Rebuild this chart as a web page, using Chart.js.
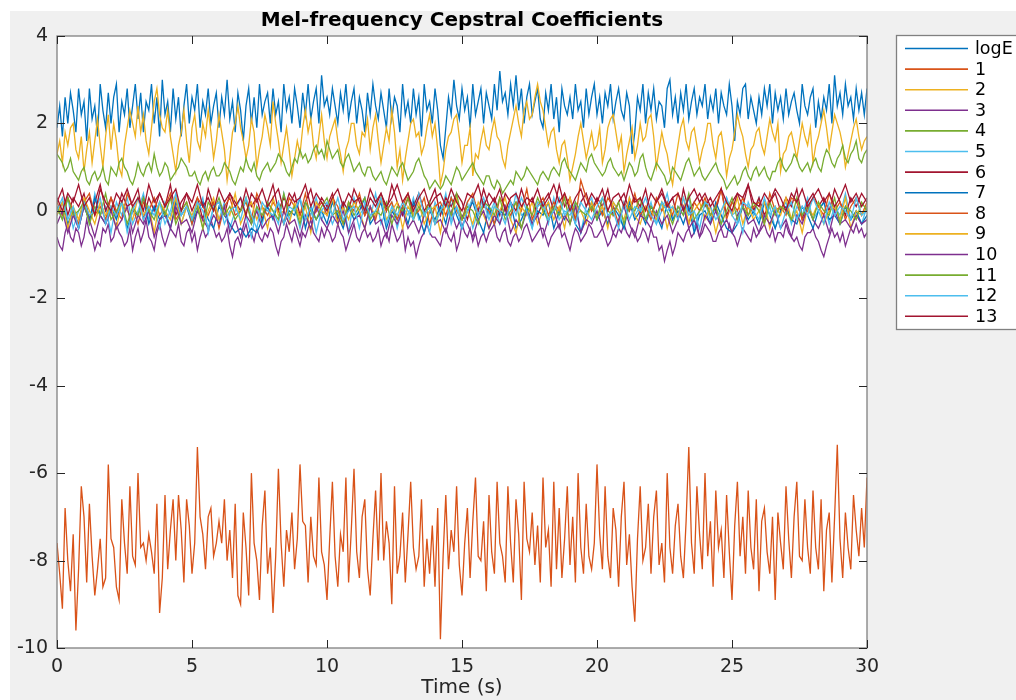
<!DOCTYPE html>
<html>
<head>
<meta charset="utf-8">
<title>Mel-frequency Cepstral Coefficients</title>
<script src="https://cdn.jsdelivr.net/npm/chart.js@4/dist/chart.umd.min.js"></script>
<style>
  html, body { margin: 0; padding: 0; background: #fff; }
  canvas { display: block; }
</style>
</head>
<body>
<canvas id="mfccChart" width="1016" height="700"></canvas>
<script>
// clip length in seconds; each series is evenly spread over it
const DURATION = 30;

// 0.1 s frames
const mfccLogE = [
  1.9,2.4,1.7,2.6,2.0,2.7,2.3,1.8,2.8,2.2, 2.5,1.6,2.8,2.1,2.4,1.7,2.9,2.3,1.9,2.7,
  2.0,2.6,2.9,1.8,2.5,2.2,2.8,1.9,2.4,2.9, 2.1,2.7,1.8,2.5,2.3,2.9,2.0,2.6,1.7,3.0,
  2.2,2.5,1.8,2.8,2.1,2.6,1.7,2.4,2.9,2.0, 2.6,2.3,2.9,1.9,2.5,2.2,2.8,2.0,2.4,2.7,
  1.9,2.6,2.2,3.0,2.1,2.5,1.8,2.7,2.3,1.6, 2.4,2.8,2.0,2.6,1.9,2.9,2.2,2.5,2.7,2.0,
  2.8,2.2,2.5,1.8,2.9,2.3,2.6,2.0,2.8,2.4, 1.9,2.7,2.2,2.9,2.1,2.5,2.8,2.0,3.1,2.4,
  2.6,2.2,2.8,2.4,2.0,2.7,2.3,2.9,2.1,2.5, 2.8,2.0,2.6,2.3,1.8,2.7,2.2,2.9,2.4,2.1,
  2.7,2.3,1.9,2.8,2.1,2.6,2.4,1.8,2.9,2.2, 2.5,2.0,2.8,2.2,2.6,1.7,2.9,2.3,2.5,2.0,
  2.8,2.3,1.5,1.2,1.9,2.6,2.2,3.0,2.4,2.1, 2.8,2.3,2.6,1.9,2.9,2.2,2.5,2.8,2.0,2.7,
  2.4,2.1,2.9,2.3,3.2,2.5,2.7,2.2,2.9,2.4, 3.1,2.3,2.8,2.0,2.6,2.9,2.2,2.5,2.8,2.1,
  1.9,2.7,2.3,2.9,2.1,2.6,1.8,2.8,2.4,2.2, 2.6,2.1,2.9,2.3,2.5,1.9,2.8,2.2,2.6,2.9,
  2.2,2.6,2.0,2.7,2.4,2.9,2.1,2.5,2.8,2.3, 2.1,2.7,2.4,1.3,1.8,2.6,2.3,2.9,2.0,2.7,
  2.3,2.8,2.1,2.5,2.4,1.9,2.8,3.0,2.2,2.6, 2.0,2.7,2.3,2.9,2.1,2.5,2.8,2.2,2.6,2.4,
  2.9,2.1,2.6,2.3,2.8,2.0,2.7,2.4,2.2,2.9, 2.4,1.6,2.5,2.2,2.8,2.9,2.1,2.6,2.3,2.0,
  2.6,2.2,2.8,2.4,2.9,2.0,2.7,2.3,2.6,2.1, 2.8,2.2,2.5,2.7,2.3,2.0,2.9,2.4,2.2,2.6,
  2.8,1.9,2.5,2.1,2.6,2.3,2.9,2.0,3.1,2.4, 2.7,2.2,2.9,2.4,2.6,2.1,2.8,2.3,2.7,2.2,
  2.8
];
const mfcc1 = [
  -7.6,-8.3,-9.1,-6.8,-8.0,-8.7,-7.4,-9.6,-8.2,-6.3, -7.0,-8.5,-6.7,-7.9,-8.8,-8.2,-7.5,-8.6,-8.4,-5.8,
  -7.5,-7.7,-8.6,-8.9,-6.6,-7.6,-8.3,-6.3,-7.9,-8.1, -6.0,-7.7,-7.6,-8.0,-7.4,-7.8,-8.3,-6.7,-9.2,-8.4,
  -6.5,-8.2,-7.3,-6.6,-8.0,-6.5,-7.3,-8.5,-6.6,-7.2, -8.3,-7.6,-5.4,-7.0,-7.4,-8.2,-7.0,-6.8,-7.9,-7.6,
  -7.1,-7.6,-6.6,-8.0,-7.3,-8.4,-6.7,-8.8,-9.0,-6.9, -7.7,-8.8,-6.0,-7.6,-8.0,-8.9,-7.2,-6.4,-8.3,-7.7,
  -9.2,-7.9,-5.9,-7.6,-8.6,-7.3,-7.8,-6.9,-8.2,-7.5, -5.8,-7.1,-7.2,-8.5,-7.0,-7.9,-8.1,-6.1,-7.8,-8.1,
  -8.9,-7.5,-6.2,-7.9,-8.6,-7.4,-7.8,-6.1,-8.5,-7.3, -5.9,-7.8,-8.4,-7.0,-6.6,-8.2,-8.8,-7.5,-6.4,-8.0,
  -6.0,-8.0,-7.1,-7.6,-9.0,-6.3,-8.3,-7.9,-6.9,-8.5, -7.4,-6.2,-7.7,-8.2,-7.9,-6.6,-8.6,-7.5,-8.3,-7.2,
  -8.6,-6.8,-9.8,-7.9,-6.5,-8.2,-7.3,-7.8,-6.3,-8.1, -8.8,-7.6,-6.8,-8.4,-7.1,-6.1,-7.9,-8.0,-7.1,-8.7,
  -6.5,-7.8,-8.3,-6.2,-7.6,-7.9,-8.5,-6.3,-7.6,-8.5, -6.6,-7.4,-8.9,-6.2,-7.5,-7.8,-6.9,-8.1,-7.2,-8.5,
  -6.1,-7.7,-7.3,-8.6,-6.2,-8.2,-6.8,-8.4,-7.5,-6.3, -8.1,-7.0,-8.5,-6.0,-7.7,-8.3,-6.7,-7.9,-8.2,-7.6,
  -5.8,-7.4,-8.2,-6.3,-7.9,-8.4,-6.8,-7.3,-8.6,-7.0, -6.2,-8.1,-7.4,-8.6,-9.4,-7.5,-6.3,-8.0,-7.7,-6.7,
  -8.3,-7.0,-6.4,-8.1,-7.6,-8.5,-6.0,-7.7,-8.3,-7.2, -6.7,-7.9,-8.4,-7.1,-5.4,-7.6,-8.3,-6.3,-7.4,-8.2,
  -6.0,-7.9,-7.1,-8.6,-6.4,-7.7,-7.3,-8.4,-6.5,-7.8, -8.9,-7.2,-6.2,-7.9,-7.0,-8.3,-6.4,-7.7,-8.2,-6.6,
  -8.7,-7.1,-6.8,-7.8,-8.3,-7.0,-8.9,-6.9,-7.6,-8.2, -6.3,-7.5,-8.4,-7.0,-6.2,-7.9,-8.0,-6.6,-7.7,-8.3,
  -6.4,-7.7,-8.2,-6.6,-8.7,-7.3,-6.9,-8.5,-7.0,-5.35, -7.5,-8.4,-6.9,-7.7,-8.2,-6.5,-7.3,-7.9,-6.8,-7.7,
  -6.1
];
const mfcc2 = [
  1.3,1.6,1.1,1.8,1.5,1.9,2.0,1.4,1.2,1.7, 0.9,1.4,1.8,1.1,1.6,2.1,1.5,1.0,1.7,2.2,
  1.4,2.0,1.6,1.0,0.8,1.5,1.9,2.3,2.0,1.7, 2.4,1.8,2.2,1.6,1.3,1.9,2.5,2.8,2.2,1.9,
  1.8,2.3,1.7,1.3,0.9,1.5,1.8,2.3,1.6,1.1, 1.9,2.2,1.6,1.4,2.0,1.7,2.3,1.8,1.2,1.6,
  2.2,1.8,1.4,0.7,1.2,1.8,2.0,2.4,1.9,1.6, 1.2,1.5,2.1,1.8,1.0,1.4,1.7,2.2,1.9,1.5,
  2.5,2.0,1.6,1.1,1.5,1.9,1.4,0.8,1.2,1.6, 1.3,1.9,2.3,1.8,2.1,1.5,1.2,1.7,2.2,1.6,
  1.2,1.7,1.9,2.1,1.6,1.3,0.9,1.4,1.6,2.0, 2.0,1.5,1.3,1.8,1.7,2.1,1.4,1.9,2.2,1.6,
  1.1,1.5,1.9,1.6,2.3,1.8,1.0,1.4,0.7,1.2, 1.6,2.0,2.1,1.7,1.8,1.3,1.5,1.9,2.2,1.7,
  2.0,1.4,0.6,0.9,1.4,1.7,1.8,2.1,2.2,1.7, 1.1,1.5,1.5,1.9,0.8,1.3,1.2,1.6,1.9,1.5,
  1.4,1.8,2.1,1.7,1.6,1.2,1.0,1.5,1.8,2.1, 2.4,2.0,1.7,2.3,2.5,2.1,2.2,2.6,2.9,2.5,
  2.3,1.9,1.5,1.8,1.9,1.4,1.1,1.5,1.6,1.2, 0.7,1.0,1.3,1.7,2.0,1.6,1.2,1.5,1.8,1.4,
  1.5,1.9,1.1,1.4,1.9,2.1,2.2,1.8,1.4,1.7, 0.9,1.3,1.6,1.9,1.2,1.5,2.0,1.6,1.7,2.1,
  2.2,1.7,1.0,1.4,1.8,1.5,1.3,0.9,0.6,1.1, 1.5,1.9,2.1,1.6,1.4,1.8,1.9,1.5,1.1,1.4,
  1.6,2.0,2.0,1.5,1.2,1.7,1.8,1.4,0.8,1.2, 1.4,1.8,2.2,1.9,1.7,1.3,1.0,1.4,1.5,1.8,
  1.9,1.5,1.3,1.7,2.1,1.8,1.6,2.0,0.9,1.3, 1.4,1.7,1.8,1.5,1.2,1.6,2.0,1.7,1.5,1.9,
  1.1,1.5,1.7,2.0,2.3,1.9,1.4,1.8,2.2,2.0, 1.8,1.5,1.0,1.3,1.6,1.9,2.1,1.7,1.4,1.6,
  1.7
];
const mfcc3 = [
  -0.6,-0.8,-0.9,-0.5,-0.3,-0.6,-0.7,-0.4,-0.5,-0.8, -0.6,-0.2,-0.5,-0.6,-0.9,-0.7,-0.8,-0.4,-0.5,-0.3,
  -0.7,-0.6,-0.3,-0.5,-0.6,-0.8,-0.7,-0.4,-0.9,-0.6, -0.4,-0.7,-0.5,-0.2,-0.6,-0.7,-0.9,-0.5,-0.3,-0.6,
  -0.8,-0.6,-0.4,-0.5,-0.6,-0.3,-0.7,-0.8,-0.5,-0.4, -0.7,-0.5,-0.9,-0.6,-0.4,-0.6,-0.5,-0.2,-0.4,-0.6,
  -0.5,-0.7,-0.6,-0.4,-0.8,-1.05,-0.7,-0.6,-0.8,-0.5, -0.3,-0.6,-0.5,-0.7,-0.4,-0.6,-0.7,-0.5,-0.6,-0.4,
  -0.5,-0.8,-1.0,-0.7,-0.6,-0.3,-0.5,-0.7,-0.4,-0.6, -0.8,-0.5,-0.6,-0.4,-0.2,-0.5,-0.6,-0.7,-0.4,-0.6,
  -0.4,-0.5,-0.7,-0.6,-0.3,-0.5,-0.6,-0.9,-0.7,-0.5, -0.3,-0.6,-0.7,-0.5,-0.4,-0.6,-0.5,-0.7,-0.6,-0.4,
  -0.8,-0.6,-0.5,-0.7,-0.3,-0.5,-0.7,-0.6,-0.4,-0.9, -0.6,-0.8,-0.7,-1.05,-0.8,-0.6,-0.5,-0.3,-0.5,-0.6,
  -0.6,-0.7,-0.8,-0.5,-0.4,-0.6,-0.7,-0.5,-0.9,-0.7, -0.3,-0.5,-0.6,-0.4,-0.7,-0.5,-0.8,-0.6,-0.5,-0.7,
  -0.5,-0.4,-0.3,-0.6,-0.7,-0.5,-0.4,-0.7,-0.8,-0.6, -0.5,-0.7,-0.6,-0.4,-0.3,-0.5,-0.7,-0.6,-0.5,-0.4,
  -0.4,-0.6,-0.8,-0.6,-0.5,-0.4,-0.3,-0.6,-0.5,-0.7, -0.9,-0.6,-0.4,-0.5,-0.7,-0.6,-0.5,-0.3,-0.4,-0.6,
  -0.6,-0.5,-0.4,-0.6,-0.8,-0.7,-0.5,-0.6,-0.4,-0.5, -0.3,-0.5,-0.6,-0.4,-0.5,-0.7,-0.6,-0.4,-0.5,-0.7,
  -0.4,-0.6,-0.6,-0.9,-0.8,-1.15,-0.9,-0.7,-1.0,-0.8, -0.5,-0.6,-0.7,-0.5,-0.4,-0.6,-0.5,-0.3,-0.6,-0.5,
  -0.3,-0.4,-0.5,-0.7,-0.7,-0.5,-0.4,-0.6,-0.6,-0.3, -0.5,-0.6,-0.8,-0.6,-0.4,-0.5,-0.6,-0.7,-0.4,-0.6,
  -0.5,-0.4,-0.3,-0.5,-0.6,-0.4,-0.7,-0.5,-0.5,-0.6, -0.3,-0.5,-0.6,-0.7,-0.6,-0.8,-0.9,-0.6,-0.5,-0.5,
  -0.4,-0.6,-0.7,-0.9,-1.05,-0.8,-0.6,-0.4,-0.6,-0.5, -0.7,-0.5,-0.8,-0.6,-0.4,-0.5,-0.3,-0.5,-0.4,-0.6,
  -0.5
];
const mfcc4 = [
  1.3,1.2,1.1,0.9,1.0,1.2,0.9,0.8,0.7,0.9, 1.0,0.7,0.6,0.8,0.9,0.7,0.8,1.0,0.7,0.6,
  1.0,0.9,0.8,1.1,1.2,1.0,0.9,0.7,0.6,0.8, 1.1,0.9,0.8,1.0,1.1,0.9,1.3,1.0,0.8,0.9,
  1.1,1.0,0.7,0.8,0.9,1.0,1.2,1.1,1.0,0.8, 0.8,0.9,0.7,0.6,0.8,0.9,0.7,0.9,1.0,0.8,
  0.8,0.9,1.1,1.0,0.9,0.7,0.6,0.8,1.0,0.9, 1.2,1.0,0.9,1.1,0.8,0.7,0.9,1.0,1.1,0.9,
  1.0,1.1,1.3,1.2,1.1,0.9,0.8,1.0,1.2,1.1, 1.4,1.2,1.3,1.1,1.2,1.4,1.5,1.3,1.4,1.2,
  1.6,1.4,1.2,1.3,1.4,1.1,1.0,1.2,1.3,1.1, 0.9,1.0,1.1,0.9,0.8,1.0,1.0,0.8,0.7,0.8,
  0.9,0.7,0.6,0.8,1.0,0.9,0.8,1.0,1.1,0.9, 0.7,0.8,0.9,1.1,1.2,1.0,0.8,0.7,0.5,0.6,
  0.7,0.6,0.5,0.6,0.8,0.7,0.6,0.8,1.0,0.9, 0.7,0.8,0.9,1.0,1.1,0.9,0.8,0.7,0.6,0.8,
  0.8,0.6,0.5,0.7,0.6,0.4,0.5,0.6,0.7,0.6, 0.9,0.8,0.7,0.8,1.0,0.9,0.8,0.7,0.6,0.8,
  0.9,0.8,0.7,0.9,1.0,0.9,0.8,1.1,1.2,1.0, 0.9,0.8,0.7,0.9,1.1,1.0,0.9,1.2,1.3,1.1,
  1.0,0.9,0.8,0.9,1.1,1.2,1.0,0.9,0.8,0.9, 0.7,0.9,1.1,1.0,0.8,0.9,1.2,1.3,1.0,0.8,
  0.7,0.9,1.1,1.0,0.9,0.8,0.6,0.7,1.0,0.9, 0.8,0.7,0.9,1.1,1.2,1.0,0.8,0.9,1.0,0.8,
  0.7,0.8,0.9,1.0,1.1,0.9,0.8,0.7,0.5,0.6, 0.7,0.8,0.6,0.7,0.9,1.0,0.8,0.7,0.9,1.0,
  0.8,0.9,1.0,0.8,0.7,0.9,0.9,1.1,1.2,1.0, 0.9,1.0,1.1,1.3,1.2,1.0,0.9,1.0,1.1,0.9,
  1.1,1.2,1.0,0.9,1.2,1.4,1.3,1.1,1.0,1.2, 1.3,1.5,1.2,1.1,1.3,1.4,1.6,1.2,1.1,1.3,
  1.4
];

// 0.2 s frames
const mfcc5 = [
  0.1,-0.2,0.3,-0.4,0.0,0.2,-0.3,0.4,-0.1,0.1, -0.5,0.2,-0.1,0.3,-0.3,0.0,0.4,-0.2,0.1,-0.4,
  0.2,-0.1,0.3,-0.3,0.1,-0.2,0.0,0.3,-0.5,0.1, -0.2,0.2,-0.4,0.0,0.3,-0.1,-0.6,0.1,-0.3,0.2,
  0.0,-0.3,0.4,-0.2,0.1,-0.4,0.2,-0.1,0.3,-0.2, 0.1,-0.3,0.0,0.2,-0.5,0.3,-0.1,0.1,-0.2,0.4,
  -0.3,0.0,0.2,-0.4,0.1,-0.1,0.3,-0.2,0.0,-0.5, 0.2,-0.1,0.4,-0.3,0.1,-0.2,0.2,-0.4,0.0,0.3,
  -0.1,0.2,-0.3,0.1,-0.2,0.4,-0.1,0.0,-0.4,0.2, 0.1,-0.3,0.3,-0.2,0.0,-0.1,0.2,-0.5,0.1,0.3,
  -0.2,0.1,-0.3,0.2,0.0,-0.4,0.3,-0.1,0.1,-0.2, 0.2,-0.3,0.0,0.4,-0.2,0.1,-0.1,0.3,-0.4,0.0,
  0.2,-0.2,0.1,-0.3,0.3,-0.1,0.0,-0.5,0.2,-0.1, 0.3,-0.2,0.1,-0.4,0.0,0.2,-0.3,0.1,-0.1,0.3,
  -0.2,0.0,0.2,-0.3,0.1,-0.1,0.4,-0.2,0.0,-0.3, 0.1
];
const mfcc6 = [
  0.2,0.5,-0.1,0.3,0.1,0.4,-0.2,0.2,0.6,0.0, 0.3,-0.1,0.4,0.1,0.2,0.5,-0.2,0.3,0.0,0.4,
  0.1,0.6,-0.1,0.2,0.4,0.0,0.3,-0.2,0.5,0.1, 0.2,-0.1,0.4,0.2,0.0,0.5,0.1,0.3,-0.2,0.2,
  0.6,0.0,0.3,0.1,0.4,-0.1,0.2,0.5,0.0,0.3, 0.1,0.4,-0.2,0.2,0.0,0.5,0.2,-0.1,0.3,0.1,
  0.4,0.0,0.6,0.2,-0.1,0.3,0.1,0.4,0.0,0.2, 0.5,-0.1,0.3,0.1,0.4,0.2,-0.2,0.3,0.0,0.5,
  0.1,0.3,-0.1,0.4,0.2,0.0,0.5,0.1,0.3,-0.1, 0.2,0.4,0.0,0.6,0.1,0.3,-0.2,0.2,0.4,0.0,
  0.3,0.1,0.5,-0.1,0.2,0.4,0.0,0.3,0.1,0.5, -0.1,0.2,0.4,0.1,0.3,-0.2,0.5,0.0,0.2,0.4,
  0.1,0.3,0.0,0.5,-0.1,0.2,0.4,0.1,0.6,0.0, 0.3,-0.1,0.2,0.4,0.0,0.3,0.1,0.5,-0.2,0.2,
  0.4,0.1,0.3,0.0,0.5,0.2,-0.1,0.3,0.1,0.4, 0.2
];
const mfcc7 = [
  -0.1,0.2,-0.3,0.0,-0.4,0.1,-0.2,0.3,-0.1,-0.3, 0.1,-0.2,0.2,-0.4,0.0,-0.1,0.3,-0.3,0.1,-0.2,
  0.0,-0.4,0.2,-0.1,0.1,-0.3,0.0,0.2,-0.2,-0.4, 0.1,-0.1,-0.3,-0.5,-0.4,-0.6,-0.4,-0.5,-0.2,0.1,
  -0.2,0.2,-0.3,0.0,-0.1,0.3,-0.4,0.1,-0.2,0.0, -0.3,0.2,-0.1,-0.4,0.1,-0.2,0.0,0.3,-0.3,-0.1,
  0.2,-0.4,0.0,-0.2,0.1,-0.3,0.2,-0.1,-0.5,0.0, -0.2,0.1,-0.3,0.3,-0.1,-0.4,0.0,0.2,-0.2,-0.5,
  0.1,-0.3,0.0,-0.1,0.2,-0.4,-0.2,0.1,-0.3,0.0, -0.1,0.2,-0.4,0.0,-0.2,0.1,-0.3,-0.5,-0.1,0.2,
  -0.2,0.0,-0.3,0.1,-0.1,-0.4,0.2,-0.2,0.0,-0.3, 0.1,-0.1,-0.4,0.2,-0.2,0.0,-0.3,0.1,-0.5,-0.1,
  0.0,-0.3,0.2,-0.1,-0.4,-0.5,-0.3,0.1,-0.2,0.0, -0.3,0.2,-0.1,-0.4,0.0,0.1,-0.2,-0.3,0.1,-0.1,
  -0.4,0.0,0.2,-0.2,-0.1,-0.3,0.1,-0.2,0.0,-0.3, -0.1
];
const mfcc8 = [
  0.2,-0.1,0.3,0.0,-0.3,0.2,0.4,-0.1,0.1,-0.2, 0.3,0.0,-0.2,0.4,0.1,-0.3,0.2,0.0,0.3,-0.1,
  0.1,0.4,-0.2,0.0,0.2,-0.3,0.3,0.1,-0.1,0.2, -0.4,0.1,0.3,-0.1,0.0,0.2,-0.2,0.4,0.1,-0.1,
  0.2,0.0,-0.3,0.3,0.1,-0.1,0.4,-0.2,0.0,0.2, -0.1,0.3,0.1,-0.3,0.2,0.0,0.4,-0.1,0.1,-0.2,
  0.3,0.0,0.2,-0.2,0.1,0.4,-0.1,0.0,0.3,-0.3, 0.1,0.2,-0.1,0.3,0.0,-0.2,0.2,0.4,-0.1,0.1,
  0.0,-0.3,0.3,0.1,-0.1,0.2,0.0,0.5,-0.2,0.1, 0.3,-0.1,0.2,0.0,0.4,0.1,-0.2,0.7,0.3,0.0,
  0.2,-0.1,0.3,0.1,-0.3,0.2,0.0,0.4,-0.1,0.1, -0.2,0.3,0.0,0.2,-0.1,0.4,0.1,-0.3,0.2,0.0,
  0.3,-0.1,0.1,0.5,-0.2,0.2,0.0,0.3,-0.1,0.1, 0.2,-0.3,0.4,0.0,0.1,-0.1,0.3,0.2,-0.2,0.0,
  0.3,0.1,-0.1,0.4,0.0,0.2,-0.2,0.1,0.3,-0.1, 0.2
];
const mfcc9 = [
  -0.1,0.2,-0.4,0.1,-0.2,0.3,0.0,-0.3,0.2,-0.1, 0.1,-0.4,0.2,0.0,-0.2,0.3,-0.1,0.1,-0.5,0.2,
  0.0,-0.2,0.3,-0.3,0.1,-0.1,0.2,-0.4,0.0,0.3, -0.2,0.1,-0.1,0.4,-0.3,0.0,0.2,-0.2,0.1,-0.4,
  0.3,-0.1,0.0,-0.3,0.2,-0.2,0.1,-0.5,0.2,0.0, -0.1,0.3,-0.3,0.1,-0.2,0.2,0.0,-0.4,0.1,-0.1,
  0.3,-0.2,0.0,0.2,-0.4,0.1,-0.1,0.2,-0.3,0.0, 0.1,-0.5,0.2,-0.1,0.3,-0.2,0.0,-0.3,0.2,-0.1,
  -0.4,0.1,0.0,0.3,-0.2,-0.5,0.1,-0.1,0.2,-0.3, 0.0,0.2,-0.2,0.1,-0.4,0.3,-0.1,0.0,-0.3,0.2,
  -0.1,0.1,-0.4,0.2,0.0,-0.2,0.3,-0.1,-0.3,0.1, 0.0,-0.2,0.2,-0.4,0.1,-0.1,0.3,-0.3,0.0,0.2,
  -0.2,0.1,-0.5,0.0,0.2,-0.1,0.3,-0.3,0.1,-0.2, 0.0,0.2,-0.4,0.1,-0.1,0.3,-0.2,0.0,-0.5,0.1,
  -0.1,0.2,-0.3,0.0,0.1,-0.2,0.3,-0.4,0.0,-0.1, 0.1
];
const mfcc10 = [
  -0.3,0.0,-0.5,-0.1,-0.4,0.1,-0.2,-0.6,-0.1,-0.3, 0.0,-0.4,-0.2,0.1,-0.5,-0.1,-0.3,0.0,-0.6,-0.2,
  -0.1,-0.4,0.1,-0.3,-0.2,-0.5,0.0,-0.2,-0.4,-0.1, -0.3,0.1,-0.5,-0.2,-0.6,-0.1,-0.3,0.0,-0.4,-0.2,
  -0.1,-0.5,0.0,-0.3,-0.2,-0.6,-0.1,-0.4,0.1,-0.2, -0.4,-0.1,-0.3,0.0,-0.5,-0.2,-0.1,-0.4,0.1,-0.3,
  -0.2,-0.6,-0.1,-0.3,0.0,-0.4,-0.2,-0.5,-0.1,0.1, -0.3,-0.2,-0.5,0.0,-0.4,-0.1,-0.3,-0.6,-0.2,0.0,
  -0.4,-0.1,-0.3,0.1,-0.5,-0.2,-0.4,0.0,-0.3,-0.1, -0.6,-0.2,0.0,-0.4,-0.1,-0.3,0.1,-0.5,-0.2,-0.3,
  0.0,-0.4,-0.1,-0.5,-0.2,0.1,-0.3,-0.6,-0.1,-0.2, -0.4,0.0,-0.3,-0.1,-0.5,-0.2,0.1,-0.4,-0.2,-0.6,
  -0.1,-0.3,0.0,-0.4,-0.2,-0.5,-0.1,0.1,-0.3,-0.2, -0.5,-0.1,-0.3,0.0,-0.4,-0.2,-0.6,-0.1,-0.3,0.1,
  -0.2,-0.4,-0.1,-0.5,0.0,-0.3,-0.2,-0.4,-0.1,-0.3, -0.2
];
const mfcc11 = [
  0.1,-0.2,0.3,-0.1,0.0,0.2,-0.3,0.1,-0.1,0.4, -0.2,0.0,0.2,-0.3,0.1,-0.1,0.3,0.0,-0.2,0.2,
  -0.1,0.3,-0.3,0.0,0.2,-0.2,0.1,-0.4,0.2,0.0, 0.3,-0.1,0.1,-0.2,0.0,0.3,-0.3,0.1,-0.1,0.2,
  0.0,-0.2,0.4,-0.1,0.1,-0.3,0.2,0.0,-0.2,0.1, 0.3,-0.1,0.0,-0.3,0.2,-0.1,0.1,0.3,-0.2,0.0,
  -0.1,0.2,-0.3,0.1,0.0,0.3,-0.2,0.1,-0.1,0.2, -0.3,0.0,0.2,-0.1,0.4,-0.2,0.1,0.0,-0.3,0.2,
  0.1,-0.1,0.3,-0.2,0.0,0.2,-0.4,0.1,-0.1,0.3, 0.0,-0.2,0.1,-0.1,0.3,-0.3,0.2,0.0,-0.1,0.1,
  -0.2,0.3,0.0,-0.1,0.2,-0.3,0.1,0.0,0.3,-0.2, 0.1,-0.1,0.2,0.0,-0.3,0.1,-0.1,0.4,-0.2,0.0,
  0.2,-0.1,0.1,-0.3,0.0,0.3,-0.2,0.1,-0.1,0.2, 0.0,-0.3,0.2,-0.1,0.1,0.0,-0.2,0.3,-0.1,0.1,
  -0.2,0.2,0.0,-0.1,0.3,-0.3,0.1,0.0,-0.2,0.2, 0.0
];
const mfcc12 = [
  0.0,0.3,-0.2,0.1,-0.4,0.2,-0.1,0.0,0.3,-0.3, 0.1,-0.1,0.2,-0.5,0.0,0.3,-0.2,0.1,-0.1,0.2,
  -0.3,0.0,0.4,-0.1,0.1,-0.2,0.2,0.0,-0.4,0.1, 0.2,-0.3,0.0,0.1,-0.2,0.3,-0.1,-0.4,0.2,0.0,
  -0.1,0.2,-0.3,0.1,0.0,0.3,-0.2,0.1,-0.5,0.0, 0.2,-0.1,0.3,-0.2,0.0,0.1,-0.4,0.2,-0.1,0.0,
  0.3,-0.3,0.1,-0.1,0.2,0.0,-0.2,0.4,-0.1,0.1, -0.3,0.0,0.2,-0.2,0.1,-0.4,0.0,0.3,-0.1,0.2,
  -0.2,0.1,0.0,-0.3,0.2,-0.1,0.3,0.0,-0.4,0.1, 0.2,-0.2,0.0,0.3,-0.1,0.1,-0.3,0.2,0.0,-0.2,
  0.1,0.3,-0.1,0.0,-0.4,0.2,-0.2,0.1,0.0,0.3, -0.1,-0.3,0.2,0.0,0.1,-0.2,0.3,-0.1,0.0,-0.4,
  0.2,0.1,-0.2,0.0,0.3,-0.1,-0.3,0.2,0.1,0.0, -0.2,0.3,-0.1,0.1,-0.4,0.0,0.2,-0.2,0.1,-0.1,
  0.3,0.0,-0.3,0.2,-0.1,0.1,0.0,-0.2,0.3,-0.1, 0.0
];
const mfcc13 = [
  0.3,0.0,0.4,0.2,0.6,0.1,0.3,-0.1,0.5,0.2, 0.0,0.4,0.2,0.5,0.1,0.3,0.0,0.6,0.2,0.4,
  0.1,0.3,0.5,0.0,0.4,0.2,0.6,0.1,0.3,0.0, 0.5,0.2,0.4,0.1,0.3,-0.1,0.4,0.2,0.5,0.1,
  0.3,0.5,0.0,0.4,0.2,0.3,0.6,0.1,0.4,0.2, 0.0,0.3,0.5,0.1,0.4,0.2,0.3,0.0,0.5,0.2,
  0.4,0.1,0.3,0.6,0.2,0.4,0.0,0.3,0.5,0.1, 0.3,0.4,0.1,0.5,0.2,0.0,0.4,0.3,0.6,0.1,
  0.4,0.2,0.5,0.0,0.3,0.4,0.1,0.3,0.2,0.5, 0.1,0.3,0.6,0.2,0.4,0.0,0.3,0.5,0.1,0.4,
  0.2,0.5,0.0,0.3,0.4,0.1,0.6,0.2,0.3,0.0, 0.4,0.2,0.5,0.1,0.3,0.4,0.0,0.3,0.5,0.2,
  0.4,0.1,0.3,0.5,0.2,0.0,0.4,0.3,0.6,0.2, 0.1,0.4,0.2,0.5,0.3,0.0,0.4,0.2,0.5,0.1,
  0.3,0.5,0.2,0.4,0.1,0.3,0.6,0.2,0.4,0.1, 0.3
];

const seriesNames = ['logE','1','2','3','4','5','6','7','8','9','10','11','12','13'];
const seriesValues = [mfccLogE, mfcc1, mfcc2, mfcc3, mfcc4, mfcc5, mfcc6,
                      mfcc7, mfcc8, mfcc9, mfcc10, mfcc11, mfcc12, mfcc13];
// default line colour order, wraps after seven
const lineColors = ['#0072BD','#D95319','#EDB120','#7E2F8E','#77AC30','#4DBEEE','#A2142F'];

const xTicks = [0, 5, 10, 15, 20, 25, 30];
const yTicks = [-10, -8, -6, -4, -2, 0, 2, 4];

const AXIS_GREY = '#808080';
const TEXT_DARK = '#262626';

Chart.defaults.font.family = "'DejaVu Sans', sans-serif";

const datasets = seriesValues.map(function (values, i) {
  const step = DURATION / (values.length - 1);
  return {
    label: seriesNames[i],
    data: values.map(function (v, k) { return { x: k * step, y: v }; }),
    borderColor: lineColors[i % lineColors.length],
    borderWidth: 1.3,
    pointRadius: 0,
    tension: 0,
    fill: false,
    // later coefficients sit on top of earlier ones
    order: seriesValues.length - i
  };
});

// figure background, box, inward ticks, title and boxed legend
const figureDecor = {
  id: 'figureDecor',
  beforeDraw: function (chart) {
    const ctx = chart.ctx;
    const a = chart.chartArea;
    ctx.save();
    ctx.fillStyle = '#ffffff';
    ctx.fillRect(0, 0, chart.width, chart.height);
    ctx.fillStyle = '#f0f0f0';
    ctx.fillRect(10, 11, chart.width - 10, chart.height - 11);
    ctx.fillStyle = '#ffffff';
    ctx.fillRect(a.left, a.top, a.right - a.left, a.bottom - a.top);
    ctx.restore();
  },
  afterDraw: function (chart) {
    const ctx = chart.ctx;
    const a = chart.chartArea;
    const xs = chart.scales.x;
    const ys = chart.scales.y;
    const tick = 8;
    ctx.save();

    ctx.strokeStyle = AXIS_GREY;
    ctx.lineWidth = 1.3;
    ctx.strokeRect(a.left, a.top, a.right - a.left, a.bottom - a.top);

    ctx.strokeStyle = TEXT_DARK;
    ctx.lineWidth = 1;
    ctx.beginPath();
    xTicks.forEach(function (t) {
      const px = Math.round(xs.getPixelForValue(t)) + 0.5;
      ctx.moveTo(px, a.bottom); ctx.lineTo(px, a.bottom - tick);
      ctx.moveTo(px, a.top); ctx.lineTo(px, a.top + tick);
    });
    yTicks.forEach(function (t) {
      const py = Math.round(ys.getPixelForValue(t)) + 0.5;
      ctx.moveTo(a.left, py); ctx.lineTo(a.left + tick, py);
      ctx.moveTo(a.right, py); ctx.lineTo(a.right - tick, py);
    });
    ctx.stroke();

    // title
    ctx.fillStyle = '#000000';
    ctx.font = "bold 20px 'DejaVu Sans', sans-serif";
    ctx.textAlign = 'center';
    ctx.textBaseline = 'middle';
    ctx.fillText('Mel-frequency Cepstral Coefficients', (a.left + a.right) / 2, 21);

    // legend box
    const lx = 896, ly = 35, lw = 140, lh = 294;
    ctx.fillStyle = '#ffffff';
    ctx.fillRect(lx, ly, lw, lh);
    ctx.strokeStyle = AXIS_GREY;
    ctx.lineWidth = 1.3;
    ctx.strokeRect(lx + 0.5, ly + 0.5, lw, lh);

    ctx.font = "17.5px 'DejaVu Sans', sans-serif";
    ctx.textAlign = 'left';
    ctx.textBaseline = 'middle';
    chart.data.datasets.forEach(function (ds, i) {
      const rowY = 48.5 + i * 20.6;
      ctx.strokeStyle = ds.borderColor;
      ctx.lineWidth = 1.6;
      ctx.beginPath();
      ctx.moveTo(905, rowY);
      ctx.lineTo(968, rowY);
      ctx.stroke();
      ctx.fillStyle = '#000000';
      ctx.fillText(ds.label, 975, rowY + 1);
    });
    ctx.restore();
  }
};

new Chart(document.getElementById('mfccChart'), {
  type: 'line',
  data: { datasets: datasets },
  plugins: [figureDecor],
  options: {
    responsive: false,
    animation: false,
    devicePixelRatio: 1,
    layout: { padding: { left: 10, right: 149, top: 36, bottom: 0 } },
    plugins: {
      legend: { display: false },
      tooltip: { enabled: false },
      title: { display: false }
    },
    scales: {
      x: {
        type: 'linear',
        min: 0,
        max: DURATION,
        afterBuildTicks: function (scale) {
          scale.ticks = xTicks.map(function (v) { return { value: v }; });
        },
        afterFit: function (scale) { scale.height = 52; },
        grid: { display: false, drawTicks: false },
        border: { display: false },
        ticks: {
          color: TEXT_DARK,
          font: { size: 19 },
          padding: 8,
          maxRotation: 0
        },
        title: {
          display: true,
          text: 'Time (s)',
          color: TEXT_DARK,
          font: { size: 20 },
          padding: { top: 0, bottom: 0 }
        }
      },
      y: {
        type: 'linear',
        min: -10,
        max: 4,
        afterBuildTicks: function (scale) {
          scale.ticks = yTicks.map(function (v) { return { value: v }; });
        },
        afterFit: function (scale) { scale.width = 47; },
        grid: { display: false, drawTicks: false },
        border: { display: false },
        ticks: {
          color: TEXT_DARK,
          font: { size: 19 },
          padding: 9
        }
      }
    }
  }
});
</script>
</body>
</html>
